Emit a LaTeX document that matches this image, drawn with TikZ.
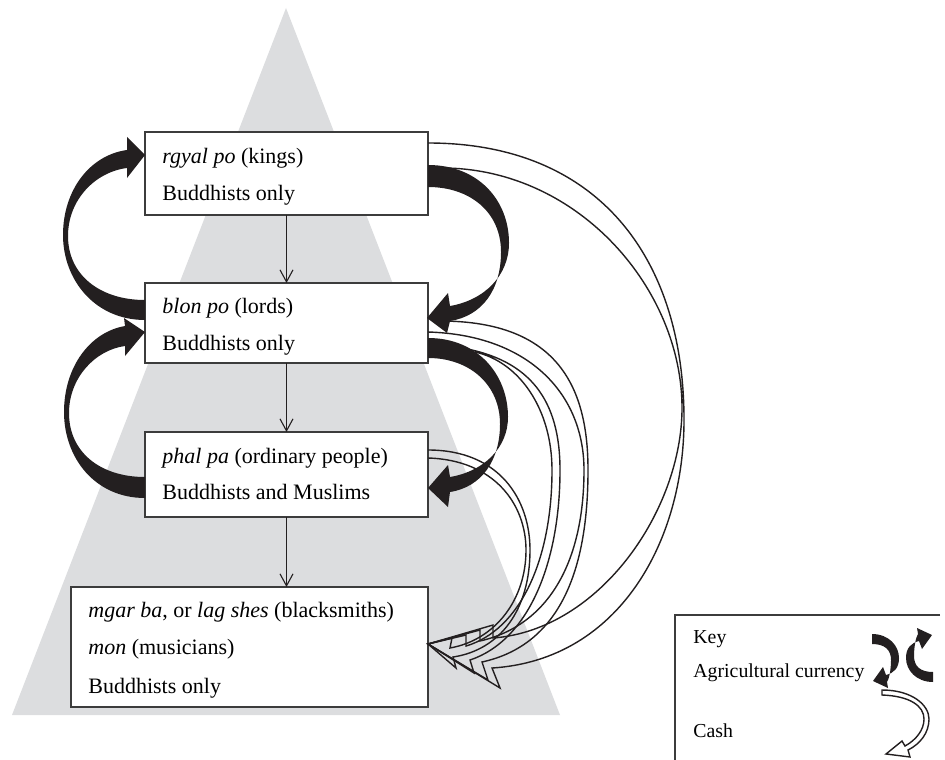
\documentclass[tikz,border=0pt]{standalone}
\usepackage{fontspec}
\setmainfont{Liberation Serif}
\usetikzlibrary{arrows.meta,fit}
\definecolor{trigray}{RGB}{220,221,223}
\definecolor{boxline}{RGB}{60,60,60}
\definecolor{ink}{RGB}{35,31,32}
\begin{document}
\begin{tikzpicture}[x=0.5pt,y=-0.5pt,
  box/.style={draw=boxline, line width=0.65pt, fill=white, inner sep=0pt, outer sep=0pt},
  txt/.style={anchor=base west, inner sep=0pt, font=\fontsize{11}{13}\selectfont},
  keytxt/.style={anchor=base west, inner sep=0pt, font=\fontsize{9.9}{12}\selectfont},
  flowarrow/.style={draw=ink, line width=0.55pt, -{Straight Barb[length=6pt,width=6.5pt,line width=0.55pt]}},
  agri/.style={fill=ink, draw=none},
  cash/.style={draw=ink, line width=0.7pt, line join=miter},
]
\useasboundingbox (0,0) rectangle (945,759);
% pyramid
\fill[trigray] (286,8) -- (12,715) -- (560,715) -- cycle;

% boxes
\node[box, fit={(145,132) (428,215)}] (b1) {};
\node[box, fit={(145,283) (428,363)}] (b2) {};
\node[box, fit={(145,432) (428,517)}] (b3) {};
\node[box, fit={(71,587) (428,707)}] (b4) {};

% cash arrows (hollow)
% from kings
\draw[cash] (428,143) .. controls (600,143) and (684,260) .. (684,420)
  .. controls (684,540) and (620,660) .. (492,668) -- (500,688) -- (428,644)
  -- (493,625) -- (493,638) .. controls (600,630) and (682,510) .. (682,408)
  .. controls (682,290) and (580,170) .. (445,168);
% from lords (outer)
\draw[cash] (440,321) .. controls (560,321) and (588,390) .. (588,470)
  .. controls (588,570) and (560,645) .. (482,662) -- (488,680) -- (428,644)
  -- (480,630) -- (480,641) .. controls (550,625) and (584,560) .. (584,470)
  .. controls (584,395) and (530,335) .. (428,332);
% from lords (inner)
\draw[cash] (462,348) .. controls (530,360) and (560,400) .. (560,470)
  .. controls (560,560) and (530,640) .. (470,660) -- (474,673) -- (428,644)
  -- (466,635) -- (466,646) .. controls (520,630) and (552,560) .. (552,470)
  .. controls (552,410) and (520,362) .. (475,352);
% from ordinary people
\draw[cash] (428,450) .. controls (500,450) and (530,500) .. (530,550)
  .. controls (530,610) and (500,650) .. (453,657) -- (456,668) -- (428,644)
  -- (452,638) -- (450,648) .. controls (495,640) and (526,600) .. (526,550)
  .. controls (526,505) and (495,460) .. (428,458);

% agricultural currency arrows (black)
% kings -> lords (right)
\fill[agri] (428,165) .. controls (478,165) and (509,200) .. (509,243)
  .. controls (509,275) and (485,300) .. (450,306) -- (448,293) -- (427,318)
  -- (447,333) -- (450,321) .. controls (482,316) and (501,290) .. (501,252)
  .. controls (501,212) and (470,187) .. (428,187) -- cycle;
% lords -> ordinary (right)
\fill[agri] (428,338) .. controls (478,338) and (508,375) .. (508,417)
  .. controls (508,447) and (485,471) .. (450,477) -- (448,465) -- (428,488)
  -- (448,507) -- (450,492) .. controls (482,487) and (500,460) .. (500,424)
  .. controls (500,385) and (470,358) .. (428,358) -- cycle;
% lords -> kings (left)
\fill[agri] (145,320) .. controls (95,320) and (63,280) .. (63,235)
  .. controls (63,190) and (90,155) .. (127,150) -- (127,137) -- (145,155)
  -- (127,178) -- (127,168) .. controls (95,172) and (68,200) .. (68,236)
  .. controls (68,275) and (100,300) .. (145,300) -- cycle;
% ordinary -> lords (left)
\fill[agri] (145,498) .. controls (95,498) and (64,458) .. (64,412)
  .. controls (64,367) and (90,332) .. (125,326) -- (124,318) -- (145,332)
  -- (125,356) -- (125,346) .. controls (95,350) and (69,378) .. (69,413)
  .. controls (69,452) and (100,477) .. (145,477) -- cycle;

% hierarchy arrows
\draw[flowarrow] (b1.south) -- (b2.north);
\draw[flowarrow] (b2.south) -- (b3.north);
\draw[flowarrow] (b3.south) -- (b3.south |- b4.north);

% texts
\node[txt] (t1a) at (162,163) {\textit{rgyal po} (kings)};
\node[txt] (t1b) at (162,200) {Buddhists only};
\node[txt] (t2a) at (162,313) {\textit{blon po} (lords)};
\node[txt] (t2b) at (162,350) {Buddhists only};
\node[txt] (t3a) at (162,463) {\textit{phal pa} (ordinary people)};
\node[txt] (t3b) at (162,499) {Buddhists and Muslims};
\node[txt] (t4a) at (88,617) {\textit{mgar ba}, or \textit{lag shes} (blacksmiths)};
\node[txt] (t4b) at (88,654) {\textit{mon} (musicians)};
\node[txt] (t4c) at (88,693) {Buddhists only};

% key
\draw[draw=boxline, line width=0.65pt] (940,615) -- (675,615) -- (675,762);
\node[keytxt] (k1) at (693,643) {Key};
\node[keytxt] (k2) at (693,677) {Agricultural currency};
\node[keytxt] (k3) at (693,737) {Cash};
\fill[agri] (872,634) .. controls (889,634) and (899,646) .. (899,658)
  .. controls (899,668) and (894,673) .. (886,675) -- (883,667) -- (873,681)
  -- (888,688) -- (887,682) .. controls (889,679) and (891,670) .. (891,660)
  .. controls (891,650) and (885,644) .. (872,644) -- cycle;
\fill[agri, rotate around={180:(902.5,658)}] (872,634) .. controls (889,634) and (899,646) .. (899,658)
  .. controls (899,668) and (894,673) .. (886,675) -- (883,667) -- (873,681)
  -- (888,688) -- (887,682) .. controls (889,679) and (891,670) .. (891,660)
  .. controls (891,650) and (885,644) .. (872,644) -- cycle;
\filldraw[cash, fill=white] (882,690) .. controls (912,690) and (929,705) .. (929,719)
  .. controls (929,733) and (920,744) .. (908,750) -- (910,757) -- (886,754)
  -- (902,741) -- (905,746) .. controls (916,740) and (924,730) .. (924,719)
  .. controls (924,706) and (910,696) .. (882,695) -- cycle;
\end{tikzpicture}
\end{document}
